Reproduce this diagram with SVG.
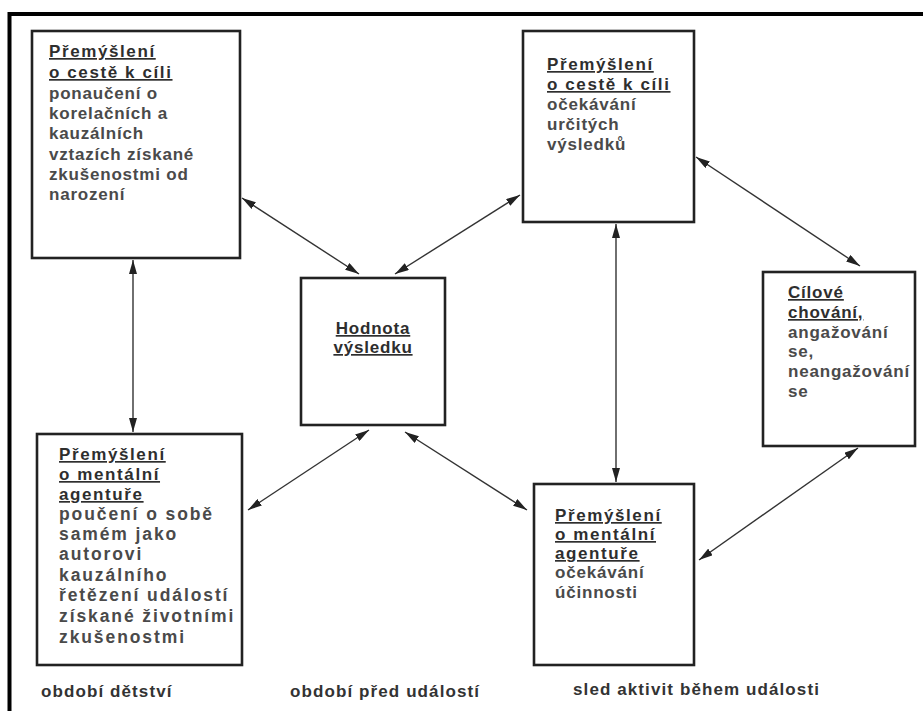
<svg xmlns="http://www.w3.org/2000/svg" width="923" height="711" viewBox="0 0 923 711">
<style>
  .box{fill:#fff;stroke:#222;stroke-width:2.6}
  text{font-family:"Liberation Sans",Arial,Helvetica,sans-serif;font-weight:bold;font-size:17px;letter-spacing:0.8px}
  .t{fill:#2e2e2e;text-decoration:underline;letter-spacing:1.6px}
  .t2{fill:#2e2e2e;text-decoration:underline;letter-spacing:0.8px}
  .b{fill:#4a4a4a}
  .b3{fill:#4a4a4a;font-size:17.5px;letter-spacing:1.9px}
  .lbl{fill:#333;letter-spacing:1.1px}
  .conn line{stroke:#333;stroke-width:1.4;marker-start:url(#ah);marker-end:url(#ah)}
</style>
<defs>
  <marker id="ah" viewBox="0 0 14 8" refX="14" refY="4" markerWidth="14" markerHeight="8" markerUnits="userSpaceOnUse" orient="auto-start-reverse">
    <path d="M0,0 L14,4 L0,8 z" fill="#222"/>
  </marker>
</defs>
<rect width="923" height="711" fill="#fff"/>
<path d="M9.5,711 V14 H923" fill="none" stroke="#000" stroke-width="4"/>

<g id="node-cesta-detstvi">
  <rect class="box" x="32" y="31" width="208" height="227"/>
  <text x="49" y="57" class="t">Přemýšlení</text>
  <text x="49" y="78" class="t">o cestě k cíli</text>
  <text x="49" y="99" class="b">ponaučení o</text>
  <text x="49" y="119" class="b">korelačních a</text>
  <text x="49" y="139" class="b">kauzálních</text>
  <text x="49" y="160" class="b">vztazích získané</text>
  <text x="49" y="180" class="b">zkušenostmi od</text>
  <text x="49" y="200" class="b">narození</text>
</g>

<g id="node-cesta-ocekavani">
  <rect class="box" x="523" y="31" width="171" height="191"/>
  <text x="547" y="70" class="t">Přemýšlení</text>
  <text x="547" y="90" class="t">o cestě k cíli</text>
  <text x="547" y="110" class="b">očekávání</text>
  <text x="547" y="130" class="b">určitých</text>
  <text x="547" y="150" class="b">výsledků</text>
</g>

<g id="node-hodnota">
  <rect class="box" x="301" y="278" width="144" height="147"/>
  <text x="373" y="334" class="t2" text-anchor="middle">Hodnota</text>
  <text x="373" y="353" class="t2" text-anchor="middle">výsledku</text>
</g>

<g id="node-cilove">
  <rect class="box" x="763" y="272" width="152" height="174"/>
  <text x="788" y="298" class="t2">Cílové</text>
  <text x="788" y="318" class="t2">chování,</text>
  <text x="788" y="338" class="b">angažování</text>
  <text x="788" y="357" class="b">se,</text>
  <text x="788" y="377" class="b">neangažování</text>
  <text x="788" y="397" class="b">se</text>
</g>

<g id="node-agentura-detstvi">
  <rect class="box" x="37" y="434" width="205" height="231"/>
  <text x="59" y="460" class="t">Přemýšlení</text>
  <text x="59" y="480" class="t">o mentální</text>
  <text x="59" y="500" class="t">agentuře</text>
  <text x="59" y="520" class="b3">poučení o sobě</text>
  <text x="59" y="540" class="b3">samém jako</text>
  <text x="59" y="560" class="b3">autorovi</text>
  <text x="59" y="581" class="b3">kauzálního</text>
  <text x="59" y="601" class="b3">řetězení událostí</text>
  <text x="59" y="622" class="b3">získané životními</text>
  <text x="59" y="643" class="b3">zkušenostmi</text>
</g>

<g id="node-agentura-ucinnost">
  <rect class="box" x="534" y="484" width="160" height="181"/>
  <text x="555" y="521" class="t">Přemýšlení</text>
  <text x="555" y="540" class="t">o mentální</text>
  <text x="555" y="559" class="t">agentuře</text>
  <text x="555" y="578" class="b">očekávání</text>
  <text x="555" y="598" class="b">účinnosti</text>
</g>

<g id="connectors" class="conn">
  <line x1="133" y1="260" x2="133" y2="432"/>
  <line x1="242" y1="198" x2="359" y2="274"/>
  <line x1="520" y1="195" x2="395" y2="274"/>
  <line x1="369" y1="430" x2="248" y2="510"/>
  <line x1="405" y1="432" x2="527" y2="510"/>
  <line x1="616" y1="224" x2="616" y2="482"/>
  <line x1="696" y1="157" x2="860" y2="266"/>
  <line x1="858" y1="448" x2="699" y2="560"/>
</g>

<g id="labels">
  <text x="41" y="697" class="lbl">období dětství</text>
  <text x="290" y="697" class="lbl">období před událostí</text>
  <text x="573" y="695" class="lbl">sled aktivit během události</text>
</g>
</svg>
